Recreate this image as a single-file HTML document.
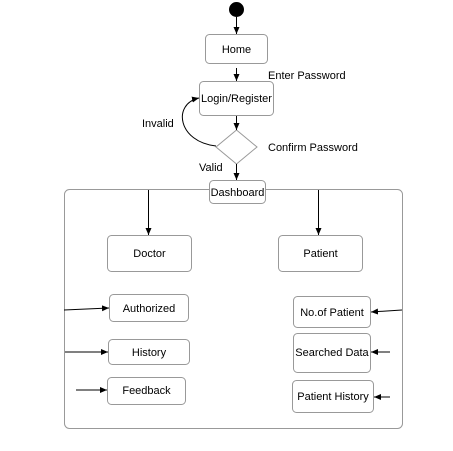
<!DOCTYPE html>
<html><head><style>body{margin:0;background:#fff}</style></head><body>
<svg width="453" height="446" viewBox="0 0 453 446" xmlns="http://www.w3.org/2000/svg" font-family="Liberation Sans, sans-serif" font-size="11" fill="#000">
<defs><marker id="a" markerWidth="8" markerHeight="8" refX="7" refY="4" orient="auto" markerUnits="userSpaceOnUse"><path d="M0,1 L7,4 L0,7 Z" fill="#000"/></marker></defs>
<g stroke="#999" fill="#fff" stroke-width="1">
<rect x="64.5" y="189.5" width="338" height="239" rx="5"/>
<rect x="205.5" y="34.5" width="62" height="29" rx="4"/>
<rect x="199.5" y="81.5" width="74" height="34" rx="4"/>
<path d="M236.5,130 L257,147 L236.5,164 L216,147 Z"/>
<rect x="209.5" y="180.5" width="56" height="23" rx="4"/>
<rect x="107.5" y="235.5" width="84" height="36" rx="4"/>
<rect x="278.5" y="235.5" width="84" height="36" rx="4"/>
<rect x="109.5" y="294.5" width="79" height="27" rx="4"/>
<rect x="108.5" y="339.5" width="81" height="25" rx="4"/>
<rect x="107.5" y="377.5" width="78" height="27" rx="4"/>
<rect x="293.5" y="296.5" width="77" height="31" rx="4"/>
<rect x="293.5" y="333.5" width="77" height="39" rx="4"/>
<rect x="292.5" y="380.5" width="81" height="32" rx="4"/>
</g>
<circle cx="236.5" cy="9.5" r="7.5" fill="#000"/>
<g stroke="#000" stroke-width="1" fill="none" marker-end="url(#a)">
<line x1="236.5" y1="17" x2="236.5" y2="34"/>
<line x1="236.5" y1="68" x2="236.5" y2="81"/>
<line x1="236.5" y1="116" x2="236.5" y2="130"/>
<line x1="236.5" y1="164" x2="236.5" y2="180"/>
<path d="M216,146 C178,142 172,104 199,98"/>
<line x1="148.5" y1="190" x2="148.5" y2="235"/>
<line x1="318.5" y1="190" x2="318.5" y2="235"/>
<line x1="64" y1="310" x2="109" y2="308"/>
<line x1="65" y1="352" x2="108" y2="352"/>
<line x1="76" y1="390" x2="107" y2="390"/>
<line x1="402" y1="310" x2="371" y2="312"/>
<line x1="390" y1="352" x2="371" y2="352"/>
<line x1="390" y1="397" x2="374" y2="397"/>
</g>
<g text-anchor="middle">
<text x="236.5" y="53">Home</text>
<text x="236.5" y="102">Login/Register</text>
<text x="237.5" y="196">Dashboard</text>
<text x="149.5" y="257">Doctor</text>
<text x="320.5" y="257">Patient</text>
<text x="149" y="312">Authorized</text>
<text x="149" y="356">History</text>
<text x="146.5" y="394">Feedback</text>
<text x="332" y="316">No.of Patient</text>
<text x="332" y="356">Searched Data</text>
<text x="333" y="400">Patient History</text>
</g>
<text x="268" y="79">Enter Password</text>
<text x="142" y="127">Invalid</text>
<text x="268" y="151">Confirm Password</text>
<text x="199" y="171">Valid</text>
</svg>
</body></html>
